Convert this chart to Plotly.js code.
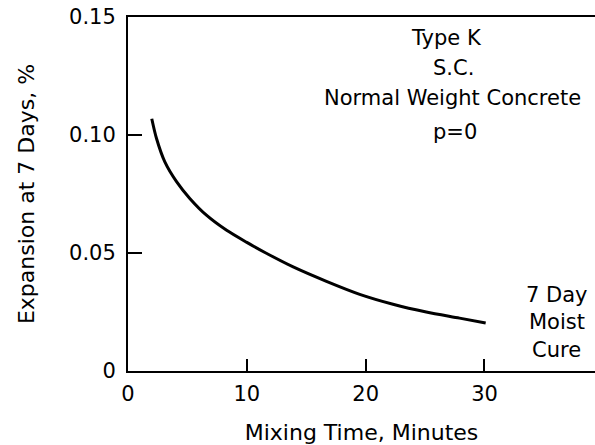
<!DOCTYPE html>
<html>
<head>
<meta charset="utf-8">
<script src="https://cdn.plot.ly/plotly-3.0.1.min.js"></script>
<style>html,body{margin:0;padding:0;background:#fff;}#chart{width:595px;height:445px;}</style>
</head>
<body>
<div id="chart"></div>
<script>
// Data
const mixingTime = [2.0, 2.4, 3.1, 4.1, 5.2, 6.6, 8.3, 10.0, 11.6, 13.9, 16.7, 19.5, 22.3, 25.1, 27.9, 30.1];
const expansion  = [0.1069, 0.0985, 0.0886, 0.0801, 0.0731, 0.0660, 0.0596, 0.0545, 0.0500, 0.0441, 0.0380, 0.0325, 0.0283, 0.0250, 0.0224, 0.0203];
const xTickVals = [0, 10, 20, 30];
const xTickText = ['0', '10', '20', '30'];
const yTickVals = [0, 0.05, 0.10, 0.15];
const yTickText = ['0', '0.05', '0.10', '0.15'];
const notesTop = ['Type K', 'S.C.', 'Normal Weight Concrete', 'p=0'];
const notesCure = ['7 Day', 'Moist', 'Cure'];

const FONT = 'DejaVu Sans, sans-serif';

const trace = {
  x: mixingTime, y: expansion, type: 'scatter', mode: 'lines',
  line: {color: '#000', width: 3, shape: 'spline', smoothing: 0.8}, hoverinfo: 'skip'
};

const topPos = [[0.683, 0.94], [0.698, 0.855], [0.694, 0.770], [0.700, 0.674]];
const curePos = [[0.918, 0.214], [0.918, 0.138], [0.918, 0.059]];
const annotations = [];
notesTop.forEach((t, i) => annotations.push({
  text: t, xref: 'paper', yref: 'paper', x: topPos[i][0], y: topPos[i][1],
  xanchor: 'center', yanchor: 'middle', showarrow: false,
  font: {family: FONT, size: 21, color: '#000'}
}));
notesCure.forEach((t, i) => annotations.push({
  text: t, xref: 'paper', yref: 'paper', x: curePos[i][0], y: curePos[i][1],
  xanchor: 'center', yanchor: 'middle', showarrow: false,
  font: {family: FONT, size: 21, color: '#000'}
}));

const layout = {
  width: 595, height: 445,
  margin: {l: 128, r: 0, t: 17, b: 74},
  paper_bgcolor: '#fff', plot_bgcolor: '#fff',
  showlegend: false,
  font: {family: FONT, size: 21, color: '#000'},
  xaxis: {
    range: [0, 39.3], tickmode: 'array', tickvals: xTickVals, ticktext: xTickText,
    ticks: 'inside', ticklen: 12, tickwidth: 2, tickcolor: '#000',
    showline: true, linewidth: 2, linecolor: '#000', mirror: true,
    showgrid: false, zeroline: false,
    tickfont: {family: FONT, size: 21}, ticklabelstandoff: 3,
    title: {text: 'Mixing Time, Minutes', font: {family: FONT, size: 22}, standoff: 20}
  },
  yaxis: {
    range: [0, 0.15], tickmode: 'array', tickvals: yTickVals, ticktext: yTickText,
    ticks: 'inside', ticklen: 14, tickwidth: 2, tickcolor: '#000',
    showline: true, linewidth: 2, linecolor: '#000',
    showgrid: false, zeroline: false,
    tickfont: {family: FONT, size: 21}, ticklabelstandoff: 6,
    title: {text: 'Expansion at 7 Days, %', font: {family: FONT, size: 22}, standoff: 28}
  },
  annotations: annotations
};

Plotly.newPlot('chart', [trace], layout, {displayModeBar: false, staticPlot: true});
</script>
</body>
</html>
